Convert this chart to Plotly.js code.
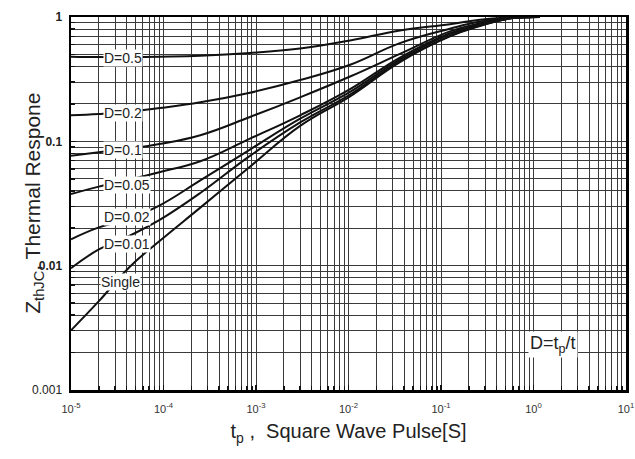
<!DOCTYPE html>
<html>
<head>
<meta charset="utf-8">
<script src="https://cdn.plot.ly/plotly-3.0.1.min.js"></script>
<style>
html,body{margin:0;padding:0;background:#fff;}
#chart{width:635px;height:459px;}
</style>
</head>
<body>
<div id="chart"></div>
<script>
// ---- data ----
const xPulse = [1e-5, 2e-5, 4.3e-5, 9e-5, 2.5e-4, 8.6e-4, 3.0e-3, 1.04e-2, 3.6e-2, 0.125, 0.264, 0.557, 1.17];
const zD05   = [0.480, 0.476, 0.476, 0.480, 0.488, 0.513, 0.558, 0.648, 0.778, 0.875, 0.951, 0.992, 1.0];
const zD02   = [0.162, 0.166, 0.173, 0.185, 0.206, 0.246, 0.311, 0.413, 0.617, 0.805, 0.920, 0.983, 1.0];
const zD01   = [0.0764, 0.0817, 0.0875, 0.0951, 0.112, 0.157, 0.226, 0.332, 0.505, 0.766, 0.890, 0.975, 1.0];
const zD005  = [0.0377, 0.0432, 0.0493, 0.0565, 0.0691, 0.105, 0.162, 0.263, 0.472, 0.741, 0.875, 0.975, 1.0];
const zD002  = [0.0163, 0.0203, 0.0240, 0.0304, 0.0485, 0.0859, 0.152, 0.250, 0.456, 0.728, 0.860, 0.975, 1.0];
const zD001  = [0.00954, 0.0135, 0.0174, 0.0232, 0.0384, 0.0764, 0.142, 0.238, 0.442, 0.705, 0.853, 0.975, 1.0];
const zSingle= [0.00302, 0.00518, 0.00977, 0.0157, 0.0293, 0.0625, 0.133, 0.230, 0.434, 0.698, 0.847, 0.975, 1.0];

const seriesNames = ["D=0.5", "D=0.2", "D=0.1", "D=0.05", "D=0.02", "D=0.01", "Single"];
const seriesValues = [zD05, zD02, zD01, zD005, zD002, zD001, zSingle];

const xTickVals = [1e-5, 1e-4, 1e-3, 1e-2, 1e-1, 1, 10];
const xTickText = ["10<sup>-5</sup>", "10<sup>-4</sup>", "10<sup>-3</sup>", "10<sup>-2</sup>", "10<sup>-1</sup>", "10<sup>0</sup>", "10<sup>1</sup>"];
const yTickVals = [0.001, 0.01, 0.1, 1];
const yTickText = ["0.001", "<b>0.01</b>", "<b>0.1</b>", "<b>1</b>"];

// ---- chart ----
const FONT = "Liberation Sans, Arial, sans-serif";

const traces = seriesValues.map((vals, i) => ({
  x: xPulse,
  y: vals,
  name: seriesNames[i],
  type: "scatter",
  mode: "lines",
  line: {color: "#111", width: 2, shape: "spline", smoothing: 1.2},
  hoverinfo: "skip"
}));

// label positions (log10 units on both axes)
const labelPos = [
  [-4.44, -0.326], [-4.44, -0.775], [-4.44, -1.073],
  [-4.39, -1.350], [-4.39, -1.606], [-4.39, -1.825], [-4.47, -2.133]
];
const annotations = seriesNames.map((name, i) => ({
  x: labelPos[i][0], y: labelPos[i][1], xref: "x", yref: "y",
  text: name, showarrow: false,
  font: {family: FONT, size: 14, color: "#222"},
  bgcolor: "#fff", borderpad: 0
}));
annotations.push({
  x: 0.913, y: 0.086, xref: "paper", yref: "paper",
  text: "D=t<sub>p</sub>/t", showarrow: false,
  font: {family: FONT, size: 18, color: "#222"},
  bgcolor: "#fff", borderpad: 1
});
// y-axis title placed as a rotated annotation
annotations.push({
  x: -0.068, y: 0.5, xref: "paper", yref: "paper",
  xanchor: "center", yanchor: "middle", textangle: -90,
  text: "Z<sub>thJC</sub>, Thermal Respone", showarrow: false,
  font: {family: FONT, size: 21, color: "#222"}
});

const gridCol = "#3a3a3a";
const layout = {
  width: 635, height: 459,
  margin: {l: 71, r: 9, t: 17, b: 69},
  paper_bgcolor: "#fff", plot_bgcolor: "#fff",
  showlegend: false,
  font: {family: FONT, color: "#222"},
  xaxis: {
    type: "log", range: [-5, 1],
    tickvals: xTickVals, ticktext: xTickText,
    tickfont: {family: FONT, size: 11, color: "#333"},
    ticks: "inside", ticklen: 5, tickcolor: "#111", tickwidth: 1.5,
    ticklabelstandoff: 7,
    showgrid: true, gridcolor: gridCol, gridwidth: 1,
    minor: {dtick: "D1", showgrid: true, gridcolor: gridCol, gridwidth: 1, ticks: "inside", ticklen: 4, tickcolor: "#111"},
    showline: true, linecolor: "#000", linewidth: 2.5, mirror: true,
    zeroline: false,
    title: {text: "t<sub>p</sub> ,  Square Wave Pulse[S]", font: {family: FONT, size: 20, color: "#222"}, standoff: 11}
  },
  yaxis: {
    type: "log", range: [-3, 0],
    tickvals: yTickVals, ticktext: yTickText,
    tickfont: {family: FONT, size: 12, color: "#222"},
    ticks: "inside", ticklen: 5, tickcolor: "#111", tickwidth: 1.5,
    ticklabelstandoff: 4,
    showgrid: true, gridcolor: gridCol, gridwidth: 1,
    minor: {dtick: "D1", showgrid: true, gridcolor: gridCol, gridwidth: 1, ticks: "inside", ticklen: 4, tickcolor: "#111"},
    showline: true, linecolor: "#000", linewidth: 2.5, mirror: true,
    zeroline: false
  },
  annotations: annotations
};

Plotly.newPlot("chart", traces, layout, {staticPlot: true, displayModeBar: false});
</script>
</body>
</html>
